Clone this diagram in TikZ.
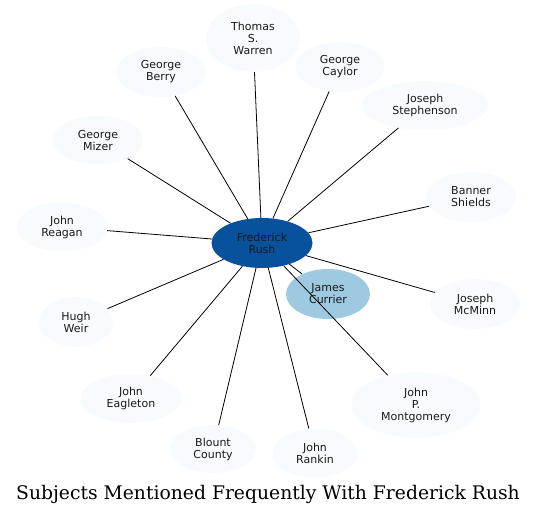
\documentclass[tikz,border=0pt]{standalone}
\usepackage{fontspec}
\newfontfamily\nodefont{DejaVu Sans}
\newfontfamily\titlefont{DejaVu Serif}
\usetikzlibrary{shapes.geometric}
\definecolor{outerfill}{HTML}{F7FBFF}
\definecolor{centerfill}{HTML}{08519C}
\definecolor{currierfill}{HTML}{9ECAE1}
\begin{document}
\begin{tikzpicture}[x=1pt,y=-1pt,
  subj/.style={ellipse,fill=outerfill,draw=none,inner sep=0pt,align=center,
    font=\nodefont\fontsize{11}{12}\selectfont,text=black!90},
  link/.style={draw=black,line width=0.8pt}]
\useasboundingbox (0,0) rectangle (537,514);
\node[subj,fill=centerfill,minimum width=101pt,minimum height=50pt] (rush) at (262,243) {Frederick\\Rush};
\node[subj,fill=currierfill,minimum width=84pt,minimum height=50pt] (currier) at (328,294) {James\\Currier};
\node[subj,minimum width=94pt,minimum height=68pt] (warren) at (253,38) {Thomas\\S.\\Warren};
\node[subj,minimum width=90pt,minimum height=50pt] (berry) at (161,72) {George\\Berry};
\node[subj,minimum width=90pt,minimum height=49pt] (mizer) at (98,140) {George\\Mizer};
\node[subj,minimum width=91pt,minimum height=49pt] (reagan) at (62,227) {John\\Reagan};
\node[subj,minimum width=89pt,minimum height=50pt] (caylor) at (340,67) {George\\Caylor};
\node[subj,minimum width=126pt,minimum height=49pt] (stephenson) at (425,105.5) {Joseph\\Stephenson};
\node[subj,minimum width=90pt,minimum height=50pt] (shields) at (471,197) {Banner\\Shields};
\node[subj,minimum width=74pt,minimum height=50pt] (weir) at (76,322) {Hugh\\Weir};
\node[subj,minimum width=101pt,minimum height=49pt] (eagleton) at (131,398.5) {John\\Eagleton};
\node[subj,minimum width=86pt,minimum height=48pt] (blount) at (213,449) {Blount\\County};
\node[subj,minimum width=90pt,minimum height=50pt] (mcminn) at (475,304) {Joseph\\McMinn};
\node[subj,minimum width=129pt,minimum height=66pt] (montgomery) at (416,405) {John\\P.\\Montgomery};
\node[subj,minimum width=85pt,minimum height=49pt] (rankin) at (315,453) {John\\Rankin};
\foreach \t in {warren,berry,mizer,reagan,caylor,stephenson,shields,weir,eagleton,blount,mcminn,montgomery,rankin,currier}
  \draw[link] (rush) -- (\t);
\node[font=\titlefont\fontsize{18.75}{22}\selectfont,anchor=base] (title) at (268,499) {Subjects Mentioned Frequently With Frederick Rush};
\end{tikzpicture}
\end{document}
